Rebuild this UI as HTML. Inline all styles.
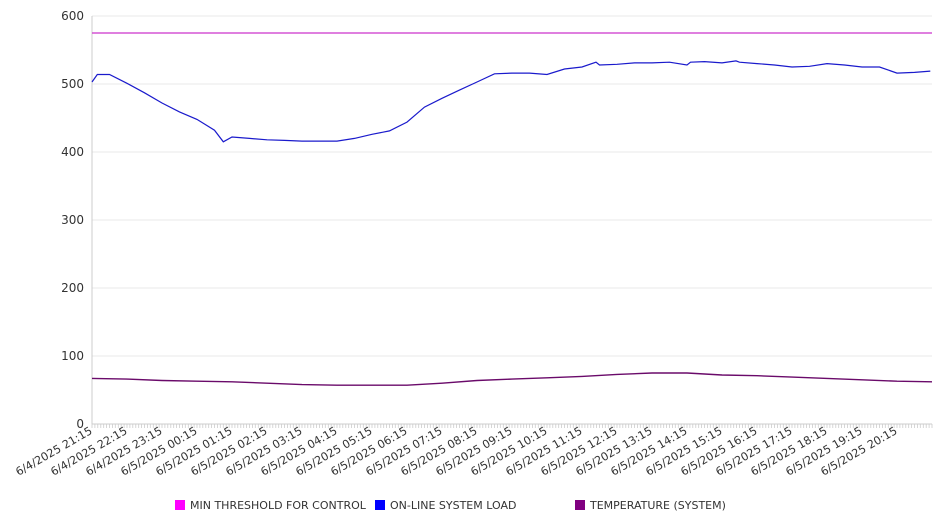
<!DOCTYPE html>
<html><head><meta charset="utf-8"><style>
body{margin:0;background:#fff;}
svg{display:block;font-family:"DejaVu Sans","Liberation Sans",sans-serif;}
</style></head><body>
<svg id="chart" width="946" height="526"></svg>
<script>
const hours = [0,0.15,0.5,1,1.5,2,2.5,3,3.5,3.75,4,4.5,5,5.5,6,6.5,7,7.5,8,8.5,9,9.5,10,10.5,11,11.5,12,12.5,13,13.5,14,14.4,14.5,15,15.5,16,16.5,17,17.1,17.5,18,18.4,18.5,19,19.5,20,20.5,21,21.5,22,22.5,23,23.5,23.95];
const loadValues = [503,514,514,501,487,472,459,448,432,415,422,420,418,417,416,416,416,420,426,431,444,466,479,491,503,515,516,516,514,522,525,532,528,529,531,531,532,528,532,533,531,534,532,530,528,525,526,530,528,525,525,516,517,519];
const tempHours = [0,1,2,3,4,5,6,7,8,9,10,11,12,13,14,15,16,17,18,19,20,21,22,23,24];
const tempValues = [67,66,64,63,62,60,58,57,57,57,60,64,66,68,70,73,75,75,72,71,69,67,65,63,62];
const thresholdValue = 575;
const yTicks = [0,100,200,300,400,500,600];
const xLabels = ["6/4/2025 21:15","6/4/2025 22:15","6/4/2025 23:15","6/5/2025 00:15","6/5/2025 01:15","6/5/2025 02:15","6/5/2025 03:15","6/5/2025 04:15","6/5/2025 05:15","6/5/2025 06:15","6/5/2025 07:15","6/5/2025 08:15","6/5/2025 09:15","6/5/2025 10:15","6/5/2025 11:15","6/5/2025 12:15","6/5/2025 13:15","6/5/2025 14:15","6/5/2025 15:15","6/5/2025 16:15","6/5/2025 17:15","6/5/2025 18:15","6/5/2025 19:15","6/5/2025 20:15"];
const legendNames = ["MIN THRESHOLD FOR CONTROL","ON-LINE SYSTEM LOAD","TEMPERATURE (SYSTEM)"];
const legendColors = ["#ff00ff","#0000ff","#800080"];

const NS="http://www.w3.org/2000/svg";
const svg=document.getElementById('chart');
const X0=92,X1=932,Y0=424,Y1=16;
function xs(h){return X0+(X1-X0)*h/24;}
function ys(v){return Y0-(Y0-Y1)*v/600;}
function el(t,a,p){const e=document.createElementNS(NS,t);for(const k in a)e.setAttribute(k,a[k]);(p||svg).appendChild(e);return e;}

yTicks.forEach(v=>{
  if(v>0){const g=el('line',{x1:X0,x2:X1,y1:ys(v),y2:ys(v),stroke:'#e8e8e8','stroke-width':1});
  
  }
  const t=el('text',{x:84,y:ys(v)+4,'text-anchor':'end','font-size':12,fill:'#333'});
  
  
  t.textContent=v;
});
const ax=el('line',{x1:X0,x2:X0,y1:Y1,y2:Y0,stroke:'#ccc'});


const bx=el('line',{x1:X0,x2:X1,y1:Y0,y2:Y0,stroke:'#ccc'});


let tp='';
for(let i=0;i<=288;i++){const x=X0+(X1-X0)*i/288;tp+=`M${x.toFixed(1)} ${Y0}v4`;}
const tk=el('path',{d:tp,stroke:'#ccc','stroke-width':0.8});



xLabels.forEach((s,i)=>{
  const x=xs(i)+1,y=433;
  const t=el('text',{x:x,y:y,'text-anchor':'end','font-size':11.2,fill:'#333',transform:`rotate(-30 ${x} ${y})`});
  
  
  t.textContent=s;
});

const th=el('line',{x1:X0,x2:X1,y1:ys(thresholdValue),y2:ys(thresholdValue),stroke:'#cc33cc','stroke-width':1.2});



const lp=el('polyline',{points:hours.map((h,i)=>xs(h).toFixed(1)+','+ys(loadValues[i]).toFixed(1)).join(' '),fill:'none',stroke:'#1a1acc','stroke-width':1.2});



const tpl=el('polyline',{points:tempHours.map((h,i)=>xs(h).toFixed(1)+','+ys(tempValues[i]).toFixed(1)).join(' '),fill:'none',stroke:'#6a0a6a','stroke-width':1.4});



const lx=[175,375,575];
legendNames.forEach((n,i)=>{
  const g=el('g',{});
  
  
  el('rect',{x:lx[i],y:500,width:10,height:10,fill:legendColors[i]},g);
  const t=el('text',{x:lx[i]+15,y:509,'font-size':11,fill:'#333'},g);
  t.textContent=n;
});
</script>
</body></html>
